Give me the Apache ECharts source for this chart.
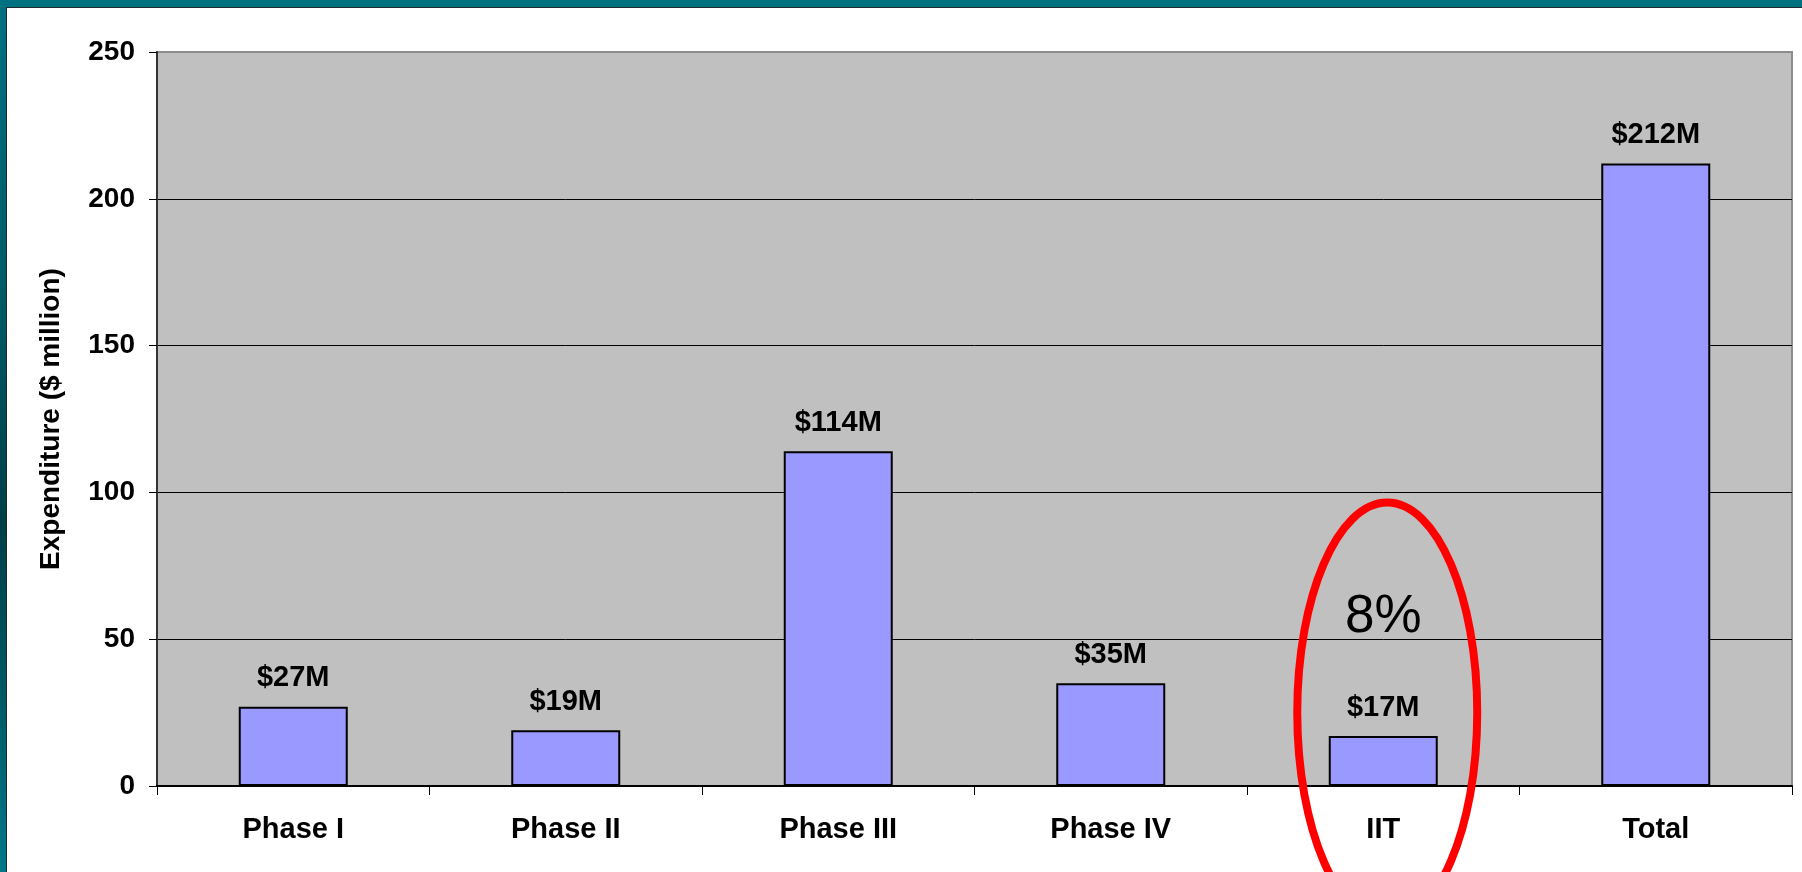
<!DOCTYPE html>
<html>
<head>
    <meta charset="utf-8">
    <title>expenditure</title>
    <style>
        body { margin: 0; }
        #frame { position: relative; width: 1802px; height: 872px; overflow: hidden;
            background: linear-gradient(to bottom, #007180 0%, #005a66 35%, #003e47 60%, #005a66 80%, #007888 100%); }
        #main { position: absolute; left: 6px; top: 7px; width: 1795px; height: 864px;
            background: #fff; border-left: 1px solid #1a2a2e; border-top: 1px solid #1a2a2e; }
    </style>
</head>
<body>
<div id="frame"><div id="main"></div></div>

<script src="https://cdn.jsdelivr.net/npm/echarts@6/dist/echarts.min.js"></script>
<script type="text/javascript">
    var categories = ['Phase I', 'Phase II', 'Phase III', 'Phase IV', 'IIT', 'Total'];
    var spending = [27, 19, 114, 35, 17, 212];
    var spendLabels = ['$27M', '$19M', '$114M', '$35M', '$17M', '$212M'];
    var highlight = 'IIT';
    var highlightNote = '8%';

    var font = 'Arial, "Liberation Sans", sans-serif';
    var myChart = echarts.init(document.getElementById('main'));

    var option = {
        animation: false,
        grid: {
            left: 150, top: 44, right: 10, bottom: 86,
            show: true,
            backgroundColor: '#c0c0c0',
            borderColor: '#8c8c8c',
            borderWidth: 2
        },
        xAxis: {
            type: 'category',
            data: categories,
            axisLine: { lineStyle: { color: '#000', width: 2 } },
            axisTick: { show: true, length: 9, lineStyle: { color: '#000', width: 1 } },
            axisLabel: { color: '#000', fontFamily: font, fontWeight: 'bold', fontSize: 29, margin: 29 }
        },
        yAxis: {
            type: 'value',
            min: 0, max: 250, interval: 50,
            name: 'Expenditure ($ million)',
            nameLocation: 'middle',
            nameGap: 92,
            nameTextStyle: { color: '#000', fontFamily: font, fontWeight: 'bold', fontSize: 28 },
            axisLine: { show: true, lineStyle: { color: '#333', width: 2 } },
            axisTick: { show: true, length: 8, lineStyle: { color: '#000', width: 1 } },
            axisLabel: { color: '#000', fontFamily: font, fontWeight: 'bold', fontSize: 28, margin: 22 },
            splitLine: { lineStyle: { color: ['#000', '#000', '#000', '#000', '#000', '#8c8c8c'], width: 1 } }
        },
        series: [{
            type: 'bar',
            data: spending,
            barWidth: '40%',
            itemStyle: { color: '#9999ff', borderColor: '#000', borderWidth: 2 },
            label: {
                show: true,
                position: 'top',
                distance: 14,
                color: '#000',
                fontFamily: font,
                fontWeight: 'bold',
                fontSize: 29,
                formatter: function (p) { return spendLabels[p.dataIndex]; }
            }
        }]
    };
    myChart.setOption(option);

    // red ellipse + percentage note around the IIT bar
    var c = myChart.convertToPixel({ xAxisIndex: 0, yAxisIndex: 0 }, [highlight, 25]);
    var t = myChart.convertToPixel({ xAxisIndex: 0, yAxisIndex: 0 }, [highlight, 57.5]);
    myChart.setOption({
        graphic: [{
            type: 'ellipse',
            shape: { cx: c[0] + 4, cy: c[1], rx: 90, ry: 210 },
            style: { fill: 'none', stroke: '#ff0000', lineWidth: 8 },
            z: 100
        }, {
            type: 'text',
            x: t[0], y: t[1],
            style: {
                text: highlightNote,
                fill: '#000',
                font: '53px ' + font,
                textAlign: 'center',
                textVerticalAlign: 'middle'
            },
            z: 100
        }]
    });
</script>
</body>
</html>
